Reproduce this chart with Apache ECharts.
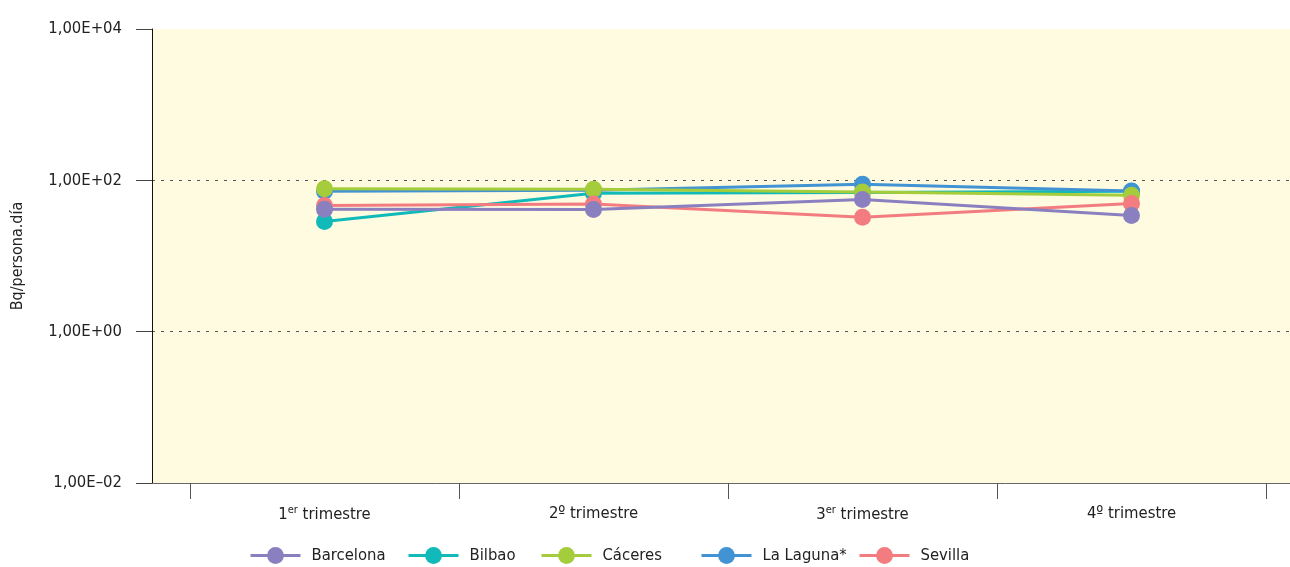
<!DOCTYPE html>
<html>
<head>
<meta charset="utf-8">
<script src="https://cdn.jsdelivr.net/npm/echarts@6/dist/echarts.min.js"></script>
<style>
  html, body { margin: 0; padding: 0; background: #fff; }
  #chart { width: 1290px; height: 567px; }
</style>
</head>
<body>
<div id="chart"></div>
<script>
  // datos (Bq/persona.día, escala log)
  const categories = ['1{sup|er} trimestre', '2º trimestre', '3{sup|er} trimestre', '4º trimestre'];
  const barcelona = [41.6, 41.2, 56, 34.3];
  const bilbao = [28.6, 67.3, 69.3, 71.5];
  const caceres = [77.6, 76, 70, 63.3];
  const laLaguna = [71.5, 73.7, 88.5, 72.1];
  const sevilla = [46.6, 48.8, 32.6, 49.5];

  const font = '"Liberation Sans Narrow", "DejaVu Sans Condensed", sans-serif';

  // orden de dibujo (de abajo arriba) como en la figura
  const seriesDefs = [
    { name: 'Bilbao', data: bilbao, color: '#12b9b9' },
    { name: 'La Laguna*', data: laLaguna, color: '#4293d3' },
    { name: 'Cáceres', data: caceres, color: '#a5cc3a' },
    { name: 'Sevilla', data: sevilla, color: '#f27c80' },
    { name: 'Barcelona', data: barcelona, color: '#8a80c0' }
  ];
  const legendOrder = ['Barcelona', 'Bilbao', 'Cáceres', 'La Laguna*', 'Sevilla'];
  const legendLeft = [249, 407, 540, 700, 858];

  function fmtExp(v) {
    const e = Math.round(Math.log10(v));
    const sign = e < 0 ? '–' : '+';
    const a = Math.abs(e);
    return '1,00E' + sign + (a < 10 ? '0' + a : a);
  }

  const chart = echarts.init(document.getElementById('chart'));

  const options = {
    animation: false,
    textStyle: { fontFamily: font },
    grid: [
      { left: 152, right: 0, top: 29, bottom: 84, show: true, backgroundColor: '#fefbe0', borderWidth: 0 },
      { left: 190, right: 24, top: 29, bottom: 84 }
    ],
    xAxis: [
      {
        gridIndex: 0, type: 'value', min: 0, max: 1,
        axisLine: { show: true, lineStyle: { color: '#666', width: 1 } },
        axisTick: { show: false }, axisLabel: { show: false }, splitLine: { show: false }
      },
      {
        gridIndex: 1, type: 'category', data: categories, boundaryGap: true,
        axisLine: { show: false },
        axisTick: { show: true, length: 16, lineStyle: { color: '#555' } },
        axisLabel: {
          margin: 22, color: '#222', fontSize: 16.5, fontFamily: font,
          rich: { sup: { fontSize: 11, verticalAlign: 'top', padding: [0, 0, 8, 0], color: '#222', fontFamily: font } }
        }
      }
    ],
    yAxis: [
      {
        gridIndex: 0, type: 'log', logBase: 10, min: 0.01, max: 10000, interval: 2,
        name: 'Bq/persona.día', nameLocation: 'middle', nameGap: 126, nameRotate: 90,
        nameTextStyle: { color: '#222', fontSize: 16, fontFamily: font },
        axisLine: { show: true, lineStyle: { color: '#111', width: 1 } },
        axisTick: { show: true, length: 16, lineStyle: { color: '#444' } },
        axisLabel: { margin: 30, color: '#222', fontSize: 16.5, fontFamily: font, formatter: fmtExp },
        splitLine: { show: true, showMinLine: false, showMaxLine: false, lineStyle: { color: '#555', type: [3, 6], width: 1 } }
      },
      {
        gridIndex: 1, type: 'log', logBase: 10, min: 0.01, max: 10000, interval: 2,
        show: false, splitLine: { show: false }
      }
    ],
    legend: legendOrder.map((name, i) => ({
      data: [name],
      left: legendLeft[i],
      top: 547,
      padding: 0,
      itemWidth: 50,
      itemHeight: 21,
      lineStyle: { width: 3 },
      textStyle: { color: '#222', fontSize: 16.5, fontFamily: font, padding: [0, 0, 0, 6] }
    })),
    series: seriesDefs.map(s => ({
      name: s.name,
      type: 'line',
      xAxisIndex: 1,
      yAxisIndex: 1,
      data: s.data,
      symbol: 'circle',
      symbolSize: 17,
      lineStyle: { color: s.color, width: 3 },
      itemStyle: { color: s.color },
      emphasis: { disabled: true }
    }))
  };

  chart.setOption(options);
</script>
</body>
</html>
